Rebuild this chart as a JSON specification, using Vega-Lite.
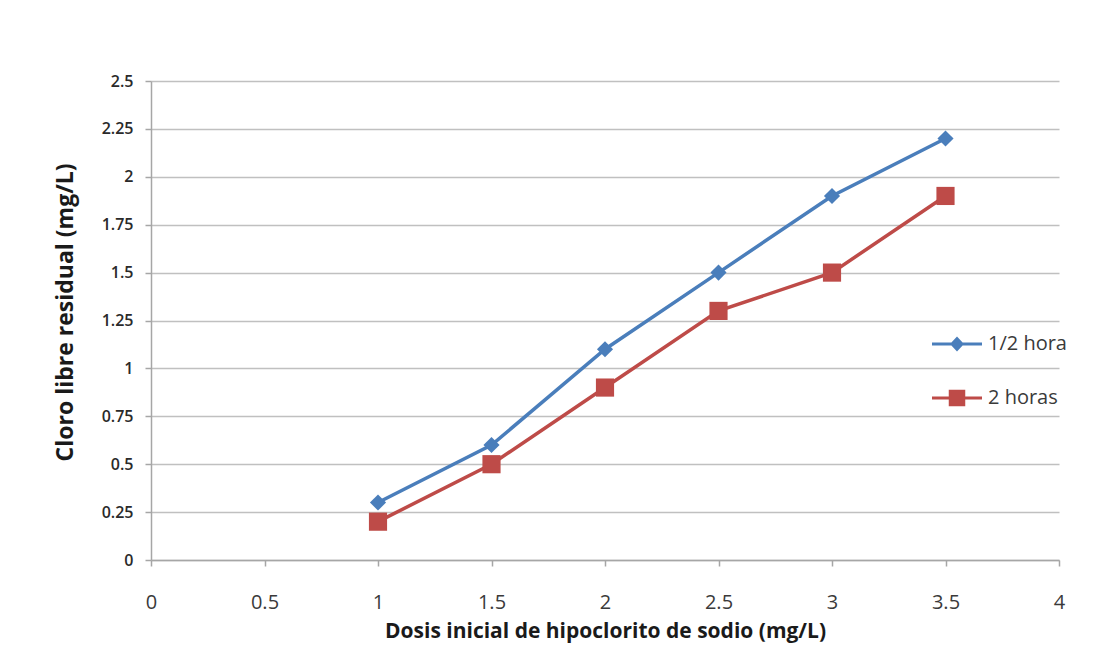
{
  "$schema": "https://vega.github.io/schema/vega-lite/v6.json",
  "autosize": {"type": "none"},
  "padding": {"left": 151, "top": 81, "right": 60, "bottom": 104},
  "width": 908,
  "height": 479,
  "background": "white",
  "config": {
    "view": {"stroke": null},
    "axis": {"domainColor": "#a6a6a6", "tickColor": "#a6a6a6", "gridColor": "#c0c0c0", "domainWidth": 1.5, "tickWidth": 1.5, "gridWidth": 1.5},
    "legend": {"padding": 0}
  },
  "data": {"values": [
    {"dose": 1, "cloro": 0.3, "serie": "1/2 hora"},
    {"dose": 1.5, "cloro": 0.6, "serie": "1/2 hora"},
    {"dose": 2, "cloro": 1.1, "serie": "1/2 hora"},
    {"dose": 2.5, "cloro": 1.5, "serie": "1/2 hora"},
    {"dose": 3, "cloro": 1.9, "serie": "1/2 hora"},
    {"dose": 3.5, "cloro": 2.2, "serie": "1/2 hora"},
    {"dose": 1, "cloro": 0.2, "serie": "2 horas"},
    {"dose": 1.5, "cloro": 0.5, "serie": "2 horas"},
    {"dose": 2, "cloro": 0.9, "serie": "2 horas"},
    {"dose": 2.5, "cloro": 1.3, "serie": "2 horas"},
    {"dose": 3, "cloro": 1.5, "serie": "2 horas"},
    {"dose": 3.5, "cloro": 1.9, "serie": "2 horas"}
  ]},
  "encoding": {
    "x": {"field": "dose", "type": "quantitative",
      "scale": {"domain": [0, 4], "nice": false, "zero": true},
      "axis": {"values": [0, 0.5, 1, 1.5, 2, 2.5, 3, 3.5, 4], "labelExpr": "'' + datum.value", "grid": false,
        "title": "Dosis inicial de hipoclorito de sodio (mg/L)", "titleFont": "Open Sans", "titleFontSize": 21, "titleFontWeight": "bold", "titleColor": "#1a1a1a", "titlePadding": 8,
        "labelFont": "Open Sans", "labelFontSize": 20, "labelColor": "#3a3a3a", "labelPadding": 26, "tickSize": 6, "labelFlush": false}},
    "y": {"field": "cloro", "type": "quantitative",
      "scale": {"domain": [0, 2.5], "nice": false},
      "axis": {"values": [0, 0.25, 0.5, 0.75, 1, 1.25, 1.5, 1.75, 2, 2.25, 2.5], "labelExpr": "'' + datum.value", "grid": true,
        "title": "Cloro libre residual (mg/L)", "titleFont": "Open Sans", "titleFontSize": 23, "titleFontWeight": "bold", "titleColor": "#1a1a1a", "titlePadding": 24, "titleY": 231,
        "labelFont": "Open Sans", "labelFontSize": 16, "labelFontWeight": 600, "labelColor": "#2a2a2a", "labelPadding": 12, "tickSize": 6}},
    "color": {"field": "serie", "type": "nominal",
      "scale": {"domain": ["1/2 hora", "2 horas"], "range": ["#4a7ebb", "#be4b48"]},
      "legend": {"title": null, "orient": "none", "legendX": 781, "legendY": 238,
        "symbolSize": 2500, "symbolStrokeWidth": 0, "symbolOpacity": 1, "rowPadding": 19,
        "labelFont": "Open Sans", "labelFontSize": 20, "labelColor": "#3a3a3a", "labelOffset": 6}
    }
  },
  "layer": [
    {"mark": {"type": "line", "strokeWidth": 3.5}},
    {"transform": [{"filter": "datum.serie === '1/2 hora'"}],
      "mark": {"type": "point", "filled": true, "opacity": 1, "shape": "diamond", "size": 260}},
    {"transform": [{"filter": "datum.serie === '2 horas'"}],
      "mark": {"type": "point", "filled": true, "opacity": 1, "shape": "square", "size": 330}},
    {"transform": [{"filter": "datum.dose > 100"}],
      "mark": {"type": "point", "filled": true, "opacity": 1},
      "encoding": {"shape": {"field": "serie", "type": "nominal",
        "scale": {"domain": ["1/2 hora", "2 horas"], "range": ["M-1,-0.06H1V0.06H-1Z M0,-0.3L0.28,0L0,0.3L-0.28,0Z", "M-1,-0.06H1V0.06H-1Z M-0.33,-0.33H0.33V0.33H-0.33Z"]}}}}
  ]
}
